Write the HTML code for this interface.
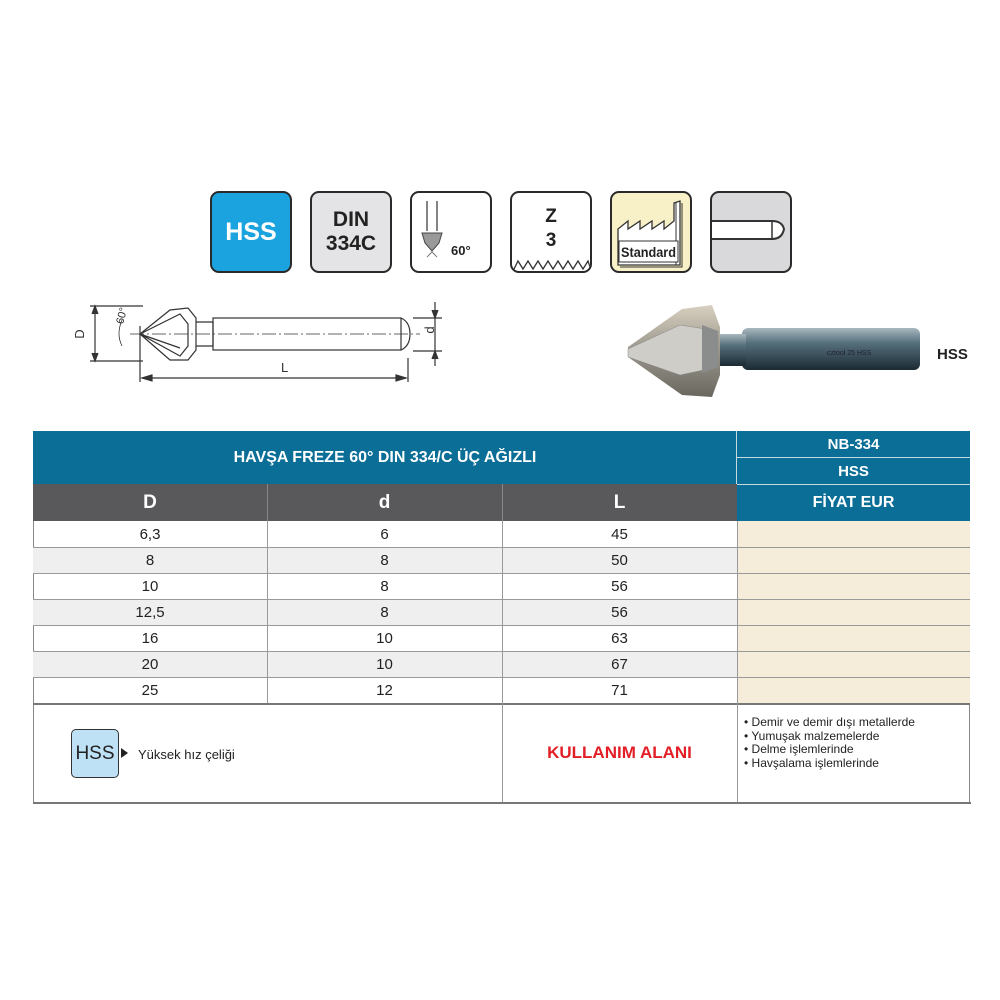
<!DOCTYPE html>
<html><head><meta charset="utf-8"><style>
*{margin:0;padding:0;box-sizing:border-box}
body{width:1000px;height:1000px;background:#fff;position:relative;overflow:hidden;font-family:"Liberation Sans Narrow","Liberation Sans",sans-serif}
.ic{position:absolute;top:191px;width:82px;height:82px;border:2.5px solid #2a2a2a;border-radius:9px;overflow:hidden}
.a{position:absolute;display:flex;align-items:center;justify-content:center;text-align:center}
.t{position:absolute;color:#222;font-size:15px;display:flex;align-items:center;justify-content:center}
.hl{position:absolute;height:1px;background:#999}
.vl{position:absolute;width:1px;background:#999}
</style></head><body>
<!-- icons -->
<div class="ic" style="left:210px;background:#1aa3df"><div class="a" style="inset:0;color:#fff;font:bold 25px 'Liberation Sans',sans-serif">HSS</div></div>
<div class="ic" style="left:310px;background:#e4e4e6"><div class="a" style="inset:0;color:#222;font:bold 21px/24px 'Liberation Sans',sans-serif">DIN<br>334C</div></div>
<div class="ic" style="left:410px;background:#fff"><svg width="82" height="82" style="position:absolute;left:-2px;top:-2px">
<line x1="17" y1="10" x2="17" y2="40" stroke="#333" stroke-width="1.2"/><line x1="27" y1="10" x2="27" y2="40" stroke="#333" stroke-width="1.2"/>
<path d="M12 42 L32 42 L29 52 L22 60 L15 52 Z" fill="#999" stroke="#444"/><path d="M17 66 L22 61 L27 66" fill="none" stroke="#555" stroke-width=".8"/>
<text x="41" y="64" font-family="Liberation Sans" font-weight="bold" font-size="13" fill="#222">60°</text></svg></div>
<div class="ic" style="left:510px;background:#fff"><div class="a" style="left:0;right:0;top:12px;color:#222;font:bold 19px/24px 'Liberation Sans',sans-serif">Z<br>3</div>
<svg width="82" height="82" style="position:absolute;left:-2px;top:-2px"><polyline points="3,80 8,70 13,78 18,70 23,78 28,70 33,78 38,70 43,78 48,70 53,78 58,70 63,78 68,70 73,78 78,70 80,76" fill="none" stroke="#333" stroke-width="1.3"/></svg></div>
<div class="ic" style="left:610px;background:#f8f0c6"><svg width="82" height="82" style="position:absolute;left:-2px;top:-2px">
<path d="M8 74 L8 38 L18 30 L18 38 L30 30 L30 38 L42 30 L42 38 L54 30 L54 38 L64 30 L64 12 L70 10 L70 74 Z" fill="#fff" stroke="#333" stroke-width="1.3"/>
<path d="M66 12 L66 74 M72 12 L72 76 L10 76" fill="none" stroke="#333" stroke-width="1"/>
<rect x="9" y="50" width="59" height="21" fill="#fff" stroke="#333" stroke-width="1"/>
<text x="11" y="66" font-family="Liberation Sans" font-weight="bold" font-size="14" fill="#222" textLength="55" lengthAdjust="spacingAndGlyphs">Standard</text>
</svg></div>
<div class="ic" style="left:710px;background:#d9d9db"><svg width="82" height="82" style="position:absolute;left:-2px;top:-2px"><path d="M2 30 L62 30 Q72 30 74 38 Q72 48 62 48 L2 48" fill="#fff" stroke="#333" stroke-width="2"/><line x1="62" y1="30" x2="62" y2="48" stroke="#333" stroke-width="1.5"/></svg></div>

<!-- technical drawing -->
<svg width="450" height="100" style="position:absolute;left:30px;top:290px">
<g stroke="#333" fill="none" stroke-width="1.2">
<line x1="60" y1="16" x2="113" y2="16"/><line x1="60" y1="71" x2="113" y2="71"/>
<line x1="65" y1="16" x2="65" y2="71"/><path d="M62 24 L65 16 L68 24 M62 63 L65 71 L68 63" fill="#333"/>
<line x1="110" y1="36" x2="110" y2="92"/><line x1="378" y1="68" x2="378" y2="92"/>
<line x1="112" y1="88" x2="376" y2="88"/><path d="M122 85 L112 88 L122 91 Z M366 85 L376 88 L366 91 Z" fill="#333"/>
<path d="M110 44 L140 20 L158 18 L166 28 L166 60 L158 70 L140 70 L110 44 Z"/>
<path d="M110 44 L150 24 L158 34 L158 56 L150 66 Z M110 44 L150 58"/>
<path d="M166 32 L183 32 L183 56 L166 56"/><rect x="183" y="28" width="188" height="32"/>
<path d="M371 28 Q380 32 380 44 Q380 56 371 60"/>
<line x1="383" y1="28" x2="412" y2="28"/><line x1="383" y1="61" x2="412" y2="61"/>
<line x1="405" y1="12" x2="405" y2="76"/><path d="M402 20 L405 28 L408 20 M402 69 L405 61 L408 69" fill="#333"/>
<line x1="100" y1="44" x2="390" y2="44" stroke-dasharray="14 3 2 3" stroke-width=".8"/>
<path d="M92 30 Q86 44 92 56" stroke-width=".8"/>
</g>
<text x="50" y="48" font-family="Liberation Sans" font-size="13" fill="#333" transform="rotate(-90 50 44)" text-anchor="middle">D</text>
<text x="94" y="40" font-family="Liberation Sans" font-size="11" fill="#333" transform="rotate(-75 90 38)">60°</text>
<text x="251" y="82" font-family="Liberation Sans" font-size="13" fill="#333">L</text>
<text x="400" y="44" font-family="Liberation Sans" font-size="13" fill="#333" transform="rotate(-90 400 44)" text-anchor="middle" dy="4" dx="4">d</text>
</svg>

<!-- photo -->
<svg width="360" height="110" style="position:absolute;left:620px;top:295px">
<defs><linearGradient id="g1" x1="0" y1="0" x2="0" y2="1"><stop offset="0" stop-color="#a9b8bf"/><stop offset=".35" stop-color="#56707c"/><stop offset="1" stop-color="#1b2a33"/></linearGradient>
<linearGradient id="g2" x1="0" y1="0" x2="0" y2="1"><stop offset="0" stop-color="#d8d0c0"/><stop offset=".5" stop-color="#9a968c"/><stop offset="1" stop-color="#6a675f"/></linearGradient></defs>
<rect x="122" y="33" width="178" height="42" rx="6" fill="url(#g1)"/>
<rect x="100" y="39" width="26" height="32" fill="url(#g1)"/>
<path d="M8 52 L62 14 L92 10 L100 32 L100 80 L92 102 L62 100 L8 62 Z" fill="url(#g2)"/>
<path d="M8 54 L60 30 L98 36 L98 72 L60 80 L8 62 Z" fill="#cfcdc8" stroke="#888" stroke-width=".5"/>
<path d="M82 30 L98 36 L98 72 L82 78 Z" fill="#8a8d8c"/>
<text x="207" y="60" font-family="Liberation Sans" font-size="7" fill="#223">cztool 25 HSS</text>
</svg>
<div style="position:absolute;left:937px;top:346px;font:bold 15px 'Liberation Sans',sans-serif;color:#222">HSS</div>

<!-- table -->
<div style="position:absolute;left:33px;top:431px;width:937px;height:53px;background:#0b6e96"></div>
<div class="a" style="left:33px;top:431px;width:704px;height:53px;color:#fff;font-weight:bold;font-size:16px">HAVŞA FREZE 60° DIN 334/C ÜÇ AĞIZLI</div>
<div style="position:absolute;left:736px;top:431px;width:1px;height:90px;background:#c8d8e0"></div>
<div style="position:absolute;left:737px;top:457px;width:233px;height:1px;background:#c8d8e0"></div>
<div class="a" style="left:737px;top:431px;width:233px;height:26px;color:#fff;font-weight:bold;font-size:15px">NB-334</div>
<div class="a" style="left:737px;top:458px;width:233px;height:26px;color:#fff;font-weight:bold;font-size:15px">HSS</div>
<div style="position:absolute;left:33px;top:484px;width:704px;height:37px;background:#59595b"></div>
<div style="position:absolute;left:737px;top:484px;width:233px;height:37px;background:#0b6e96;border-top:1px solid #c8d8e0"></div>
<div style="position:absolute;left:267px;top:484px;width:1px;height:37px;background:#888"></div>
<div style="position:absolute;left:502px;top:484px;width:1px;height:37px;background:#888"></div>
<div class="a" style="left:33px;top:484px;width:234px;height:37px;color:#fff;font-weight:bold;font-size:19px">D</div>
<div class="a" style="left:267px;top:484px;width:235px;height:37px;color:#fff;font-weight:bold;font-size:19px">d</div>
<div class="a" style="left:502px;top:484px;width:235px;height:37px;color:#fff;font-weight:bold;font-size:19px">L</div>
<div class="a" style="left:737px;top:484px;width:233px;height:37px;color:#fff;font-weight:bold;font-size:16px">FİYAT EUR</div>

<div style="position:absolute;left:33px;top:521px;width:937px;height:282px;border:1px solid #888;border-top:none"></div>
<div style="position:absolute;left:33px;top:547px;width:704px;height:26px;background:#efeff0"></div>
<div style="position:absolute;left:33px;top:599px;width:704px;height:26px;background:#efeff0"></div>
<div style="position:absolute;left:33px;top:651px;width:704px;height:26px;background:#efeff0"></div>
<div style="position:absolute;left:737px;top:521px;width:233px;height:182px;background:#f5ecda"></div>
<div class="hl" style="left:33px;width:937px;top:547px"></div>
<div class="hl" style="left:33px;width:937px;top:573px"></div>
<div class="hl" style="left:33px;width:937px;top:599px"></div>
<div class="hl" style="left:33px;width:937px;top:625px"></div>
<div class="hl" style="left:33px;width:937px;top:651px"></div>
<div class="hl" style="left:33px;width:937px;top:677px"></div>
<div class="hl" style="left:33px;width:937px;top:703px;background:#777;height:2px"></div>
<div class="vl" style="left:267px;top:521px;height:182px"></div>
<div class="vl" style="left:502px;top:521px;height:282px"></div>
<div class="vl" style="left:737px;top:521px;height:282px"></div>
<div style="position:absolute;left:33px;top:802px;width:938px;height:2px;background:#777"></div>

<div class="t" style="left:33px;width:234px;top:521px;height:26px">6,3</div><div class="t" style="left:267px;width:235px;top:521px;height:26px">6</div><div class="t" style="left:502px;width:235px;top:521px;height:26px">45</div>
<div class="t" style="left:33px;width:234px;top:547px;height:26px">8</div><div class="t" style="left:267px;width:235px;top:547px;height:26px">8</div><div class="t" style="left:502px;width:235px;top:547px;height:26px">50</div>
<div class="t" style="left:33px;width:234px;top:573px;height:26px">10</div><div class="t" style="left:267px;width:235px;top:573px;height:26px">8</div><div class="t" style="left:502px;width:235px;top:573px;height:26px">56</div>
<div class="t" style="left:33px;width:234px;top:599px;height:26px">12,5</div><div class="t" style="left:267px;width:235px;top:599px;height:26px">8</div><div class="t" style="left:502px;width:235px;top:599px;height:26px">56</div>
<div class="t" style="left:33px;width:234px;top:625px;height:26px">16</div><div class="t" style="left:267px;width:235px;top:625px;height:26px">10</div><div class="t" style="left:502px;width:235px;top:625px;height:26px">63</div>
<div class="t" style="left:33px;width:234px;top:651px;height:26px">20</div><div class="t" style="left:267px;width:235px;top:651px;height:26px">10</div><div class="t" style="left:502px;width:235px;top:651px;height:26px">67</div>
<div class="t" style="left:33px;width:234px;top:677px;height:26px">25</div><div class="t" style="left:267px;width:235px;top:677px;height:26px">12</div><div class="t" style="left:502px;width:235px;top:677px;height:26px">71</div>

<div style="position:absolute;left:71px;top:729px;width:48px;height:49px;background:#bfe1f5;border:1.5px solid #333;border-radius:5px;font:19px 'Liberation Sans',sans-serif;color:#222;display:flex;align-items:center;justify-content:center">HSS</div>
<div style="position:absolute;left:121px;top:748px;width:0;height:0;border-left:7px solid #222;border-top:5px solid transparent;border-bottom:5px solid transparent"></div>
<div style="position:absolute;left:138px;top:747px;font-size:13px;color:#222">Yüksek hız çeliği</div>
<div class="a" style="left:502px;top:703px;width:235px;height:100px;color:#e31d25;font-weight:bold;font-size:17px">KULLANIM ALANI</div>
<div style="position:absolute;left:744px;top:716px;font-size:12px;line-height:13.5px;color:#222">• Demir ve demir dışı metallerde<br>• Yumuşak malzemelerde<br>• Delme işlemlerinde<br>• Havşalama işlemlerinde</div>
</body></html>
